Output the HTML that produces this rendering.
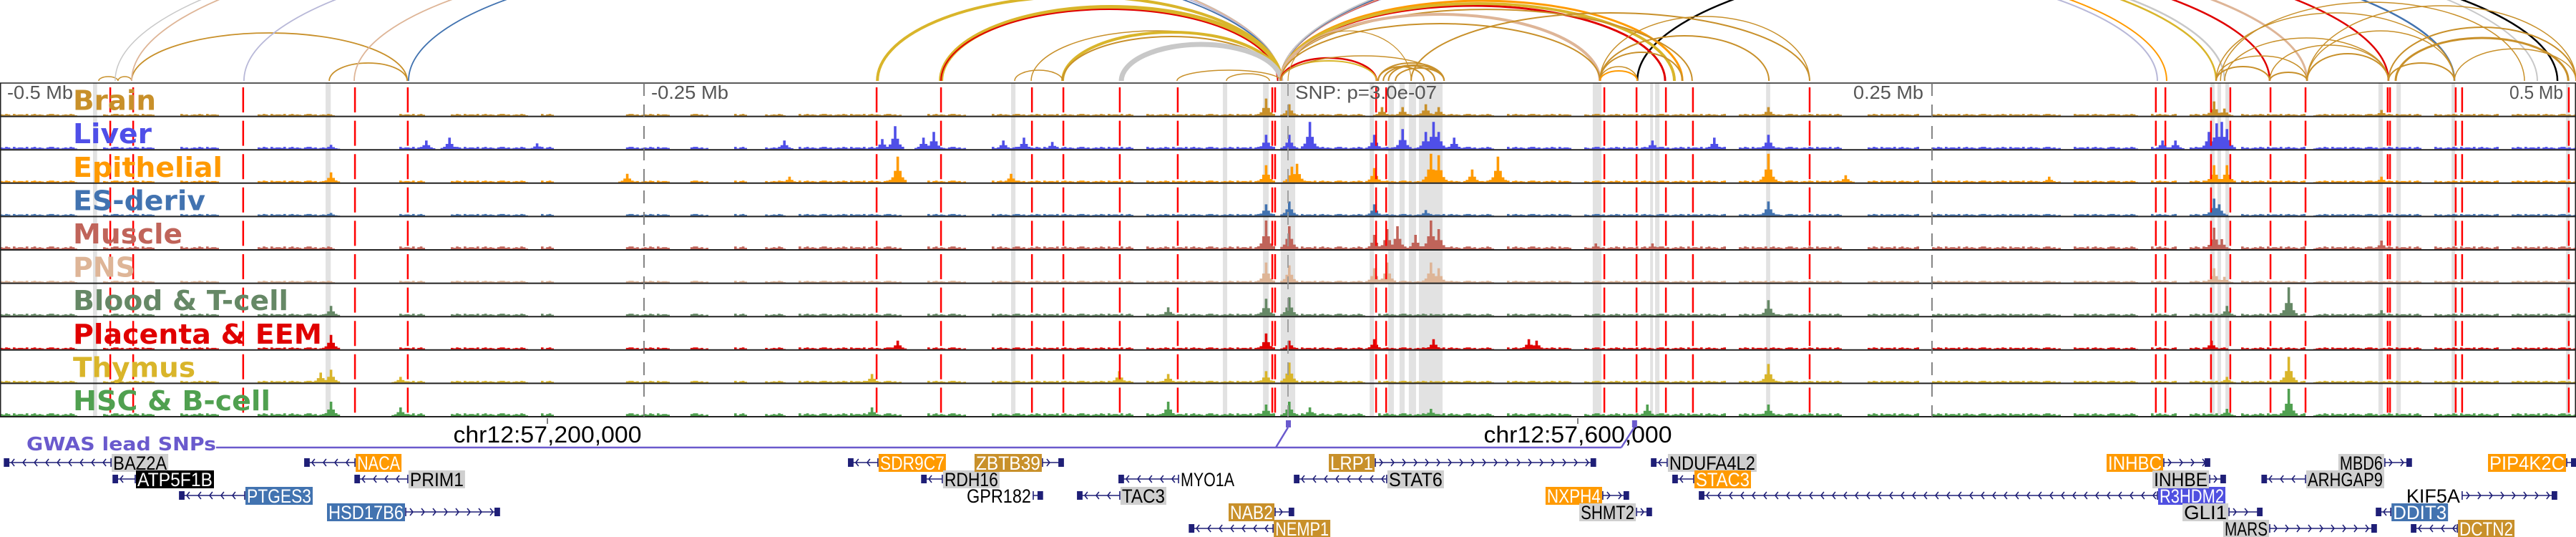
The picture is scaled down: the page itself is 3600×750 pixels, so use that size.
<!DOCTYPE html>
<html><head><meta charset="utf-8"><title>Epigenome browser</title>
<style>
html,body{margin:0;padding:0;background:#fff;}
svg{display:block;}
text{font-family:"Liberation Sans","DejaVu Sans",sans-serif;}
</style></head>
<body>
<svg id="chart" xmlns="http://www.w3.org/2000/svg" width="3600" height="750" viewBox="0 0 3600 750">
  <defs><clipPath id="arcClip"><rect x="0" y="0" width="3600" height="116"/></clipPath></defs>
  <g id="arcs" clip-path="url(#arcClip)"></g>
  <g id="bands"></g>
  <g id="tracks"></g>
  <g id="vlines"></g>
  <g id="labels"></g>
  <g id="axis"></g>
  <g id="genes"></g>
</svg>
<script>
// ---------- data ----------
const trackNames = ["Brain","Liver","Epithelial","ES-deriv","Muscle","PNS","Blood & T-cell","Placenta & EEM","Thymus","HSC & B-cell"];
const trackColors = ["#c8902a","#4f4fe8","#ff9a00","#4273b0","#c0645a","#deb597","#668866","#e00000","#d9b52a","#50a050"];
const trackBg = [2,2.5,2,2,3,2,2.5,2,2,3];
const peaksBrain = [[-8.6,.6],[0,.4],[36.1,.3],[44.4,.3],[52.8,.4],[58.3,.3],[186.1,.3],[358.9,.5],[362.5,.25],[424.2,.2]];
const peaksLiver = [[-372.5,.15],[-335.3,.3],[-325.6,.4],[-291.9,.2],[-195.8,.3],[-152.8,.8],[-137.8,.6],[-141.7,.4],[-158.3,.35],[-111.1,.3],[-102.8,.4],[-92.5,.25],[-8.6,.5],[0,.5],[8.3,.95],[32.5,.5],[44.4,.7],[52.8,.6],[55.6,.95],[58.3,.6],[63.9,.4],[140.6,.3],[165,.4],[186.1,.5],[356.9,.6],[359.7,.9],[361.7,.95],[363.9,.7],[339.4,.3],[344.4,.3]];
const peaksEpithelial = [[-372.5,.35],[-257.5,.3],[-151.9,.9],[-194.4,.2],[-107.8,.3],[-8.6,.6],[1.4,.55],[3.3,.65],[32.5,.5],[55.3,1],[58.3,.95],[71.4,.45],[81.4,.9],[186.1,1],[215.6,.25],[295,.2],[358.9,.6],[363.9,.6],[424.2,.2]];
const peaksES = [[-372.5,.1],[-8.6,.4],[0,.5],[32.5,.4],[52.8,.2],[186.1,.5],[358.9,.6],[361.1,.4]];
const peaksMuscle = [[-8.6,1],[0,.8],[32.5,.5],[37.5,.7],[41.7,.8],[48.6,.5],[55.3,1],[58.3,.7],[118.9,.2],[140.6,.2],[358.9,.75],[362.2,.35],[423.6,.3]];
const peaksPNS = [[-8.6,.7],[0,.6],[32.5,.5],[37.5,.7],[55.3,.7],[58.3,.5],[358.9,.5],[362.5,.2]];
const peaksBlood = [[-371.7,.35],[-47.5,.3],[-8.6,.6],[0,.65],[186.1,.55],[387.5,1],[363.9,.35],[424.2,.2]];
const peaksPlacenta = [[-371.7,.5],[-151.9,.3],[-8.6,.55],[0,.3],[32.5,.35],[55.6,.35],[92.5,.35],[95.8,.3],[358.3,.3]];
const peaksThymus = [[-375.8,.35],[-372.5,.45],[-345,.2],[-162.5,.3],[-66.1,.4],[-47.5,.3],[-8.6,.4],[0,.7],[186.1,.65],[387.5,.9],[363.9,.2]];
const peaksHSC = [[-372.5,.5],[-345,.3],[-162.5,.3],[-47.5,.5],[-8.6,.4],[0,.5],[8.3,.3],[55.3,.25],[138.9,.4],[186.1,.4],[387.5,.95],[363.9,.25]];
const bgRanges = [[-500,-470],[-460,-440],[-430,-415],[-400,-370],[-345,-335],[-325,-295],[-290,-285],[-257,-240],[-232,-225],[-215,-210],[-203,-195],[-190,-150],[-140,-125],[-115,-60],[-55,-5],[0,30],[35,80],[85,110],[115,170],[175,215],[225,245],[250,300],[305,330],[335,345],[350,365],[370,395],[398,440],[445,470],[475,500]];
const bgTexture = "3243142332413423213442312";
const bandStarts = [-463.9,-373.6,-107.5,-25.3,-9.7,-2.8,31.7,38.9,43.3,46.9,50.8,118.3,140.6,142.5,185.6,358.1,360.8,363.9,423.3,430.3,451.7,496.1];
const bandEnds   = [-462.3,-371.6,-105.8,-23.6,-7.5,2.8,33.4,41.1,45.3,49.7,60,121.7,141.7,144.2,187.2,359.7,362.2,365.3,425,432,453.1,497.5];
const redLines = [-457.2,-448.3,-405.6,-362.2,-341.7,-159.7,-134.7,-99.4,-87.2,-65.3,-42.8,-6.1,-5,34.2,38.1,122.8,135.3,146.7,157.2,202.5,336.9,340.6,358.3,365.8,381.4,395,426.9,427.8,453.3,455.8,497.2];
const tickKb = [-500,-250,0,250,500];
const tickLabels = ["-0.5 Mb","-0.25 Mb","SNP: p=3.0e-07","0.25 Mb","0.5 Mb"];
const snpKb = [0,134.4];
const arcStart = [-461.7,-454.2,-448.9,-372.2,-455.3,-448.9,-405.3,-362.5,-341.4,-159.4,-134.7,-134.7,-99.7,-87.5,-87.5,-64.7,-106.1,-43.1,-23.9,-2.8,-2.8,-2.8,-2.8,-2.8,-2.8,-2.8,-2.8,-2.8,135.6,-2.8,-2.8,-2.8,-2.8,-2.8,-2.8,47.8,121.1,121.1,121.1,121.1,121.1,-2.8,-2.8,35,37,41.7,35,39,0,-2.8,360.3,360.3,381.1,381.1,395.6,395.6,360.3,427.2,427.2,452.8,395.6,362,430,363.6];
const arcEnd   = [-454.2,-448.9,-341.9,-341.9,-2.8,-2.8,-2.8,-2.8,-2.8,-2.8,-2.8,-4,-2.8,-2.8,-2.8,-2.8,-87.5,-2.8,-7.2,337.5,341.1,360.3,363.6,381.1,395.6,427.2,452.8,485,492.8,153.1,146.4,150,156.9,121.1,121.1,202.5,186.7,202.5,153.1,135.6,135.6,34.4,34.4,60.6,60.6,60.6,52.8,57,47.8,60.6,381.1,395.6,395.6,427.2,427.2,452.8,452.8,452.8,500,500,500,480,497,427.2];
const arcHeight= [6,6,67,25,217,214,200,185,180,118,103,100,70,68,62,51,15,15,10,179,182,188,190,191,196,205,211,220,186,112,105,108,100,93,80,95,63,90,40,20,14,32,28,25,22,18,20,21,70,35,20,35,12,50,38,70,95,25,75,45,105,110,60,60];
const arcColor = ["g","g","g","g","gr","t","l","t","s","y","y","r","g","y","g","gr","g","g","g","l","o","y","gr","r","t","r","s","gr","k","o","r","y","g","t","g","g","g","g","g","g","o","r","y","g","g","g","g","g","g","g","g","g","g","g","g","g","g","g","g","g","g","g","g","g"];
const arcWidth = [1.5,1.5,1.8,1.8,1.5,1.8,1.8,1.8,1.8,4,6,2,1.5,4,2,7,1.5,1.5,1.5,2,2,2.5,2.5,2.5,3,2.5,2.5,2,2.5,3,3,4,2,4,2,2,2,1.5,2,1.5,2,2.5,2,2,2,2,2,2,1.2,1.5,2,1.5,2,1.5,2,1.5,1.5,2,2,1.5,1.5,1.5,3,1.5];
const geneNames = ["BAZ2A","ATP5F1B","PTGES3","HSD17B6","NACA","PRIM1","SDR9C7","RDH16","GPR182","ZBTB39","MYO1A","TAC3","NAB2","NEMP1","LRP1","STAT6","NXPH4","SHMT2","NDUFA4L2","STAC3","R3HDM2","INHBC","INHBE","GLI1","MARS","ARHGAP9","MBD6","KIF5A","DDIT3","DCTN2","PIP4K2C"];
const geneStart = [-498.3,-456.1,-430.3,-342.5,-381.7,-362.2,-170.6,-142.2,-98.9,-95.3,-65.6,-81.7,-5,-38.3,33.9,2.5,122.2,135.3,141.1,149.4,159.7,340,357.8,365.3,381.1,378.1,425.8,455.8,422.5,436.1,496.4];
const geneEnd   = [-456.9,-447.5,-405,-306.1,-362.2,-341.7,-159.2,-134.2,-95.3,-87.2,-42.5,-65.3,2.2,-5.8,119.4,38.3,132.2,141.1,147.2,157.5,337.5,357.8,363.9,378.1,422.5,395,436.1,492.5,428.1,453.9,503];
const geneRow   = [0,1,2,3,0,1,0,1,2,0,1,2,3,4,0,1,2,3,0,1,2,0,1,3,4,1,0,2,3,4,0];
const geneStrand= "<<<><<<<>><<><><>><<<>>>><>><<>";
const geneStyle = ["gr","k","s","s","o","gr","o","gr","n","g","n","gr","g","g","g","gr","o","gr","gr","o","b","o","gr","gr","gr","gr","gr","n","s","g","o"];

// ---------- scales ----------
const NS = "http://www.w3.org/2000/svg";
const x = kb => (kb + 500) * 3.6;
const TOP = 116, TH = 46.6, NT = 10, BOTTOM = TOP + TH * NT;
const ARC_BASE = 113, BARMAX = 40;
const palette = {g:"#c8902a",y:"#d9b52a",r:"#e00000",gr:"#c8c8c8",t:"#deb597",l:"#b8b8d8",s:"#4273b0",o:"#ff9a00",k:"#000000",b:"#5050e0",n:"none"};
function el(tag, parent){ const e=document.createElementNS(NS,tag); parent.appendChild(e); return e; }

// ---------- arcs ----------
const arcG = document.getElementById("arcs");
for (let i=0;i<arcStart.length;i++){
  const x1=x(Math.min(arcStart[i],arcEnd[i])), x2=x(Math.max(arcStart[i],arcEnd[i]));
  const rx=(x2-x1)/2, ry=arcHeight[i];
  const p=el("path",arcG);
  
  
  p.setAttribute("d",`M${x1},${ARC_BASE} A${rx},${ry} 0 0 1 ${x2},${ARC_BASE}`);
  p.setAttribute("fill","none");
  p.setAttribute("stroke",palette[arcColor[i]]);
  p.setAttribute("stroke-width",arcWidth[i]);
}

// ---------- bands ----------
const bandG=document.getElementById("bands");
for (let i=0;i<bandStarts.length;i++){
  const r=el("rect",bandG);
  
  
  r.setAttribute("x",x(bandStarts[i])); r.setAttribute("y",TOP);
  r.setAttribute("width",Math.max(2,x(bandEnds[i])-x(bandStarts[i]))); r.setAttribute("height",BOTTOM-TOP);
  r.setAttribute("fill","#e2e2e2");
}

// ---------- tracks ----------
const peaks=[peaksBrain,peaksLiver,peaksEpithelial,peaksES,peaksMuscle,peaksPNS,peaksBlood,peaksPlacenta,peaksThymus,peaksHSC];
const trackG=document.getElementById("tracks");
const NB=1000;
for (let t=0;t<NT;t++){
  const h=new Array(NB).fill(0);
  bgRanges.forEach(([a,b])=>{ for(let k=Math.round(a+500);k<Math.round(b+500)&&k<NB;k++){ h[k]=trackBg[t]*(+bgTexture[k%bgTexture.length])/3.2; } });
  peaks[t].forEach(([pos,v])=>{
    const c=Math.round(pos+500); const H=v*BARMAX;
    [[0,1],[-1,.45],[1,.45],[-2,.2],[2,.2],[-3,.1],[3,.1]].forEach(([d,f])=>{ const k=c+d; if(k>=0&&k<NB) h[k]=Math.max(h[k],H*f); });
  });
  const base=TOP+TH*(t+1)-1;
  let d="";
  for(let k=0;k<NB;k++){ if(h[k]>0.3){ const x0=x(k-500); d+=`M${x0.toFixed(1)},${base}h3.6v${(-h[k]).toFixed(1)}h-3.6z`; } }
  const p=el("path",trackG);
  
  
  p.setAttribute("d",d); p.setAttribute("fill",trackColors[t]);
  const sep=el("line",trackG);
  
  
  sep.setAttribute("x1",0); sep.setAttribute("x2",3600); sep.setAttribute("y1",TOP+TH*(t+1)); sep.setAttribute("y2",TOP+TH*(t+1));
  sep.setAttribute("stroke","#222"); sep.setAttribute("stroke-width",2);
}
const frame=el("path",trackG);


frame.setAttribute("d",`M0.75,${BOTTOM} V${TOP} H3599.25 V${BOTTOM}`);
frame.setAttribute("fill","none"); frame.setAttribute("stroke","#222"); frame.setAttribute("stroke-width",1.5);

// ---------- vertical marker lines ----------
const vG=document.getElementById("vlines");
tickKb.forEach((kb,i)=>{
  if(i===0||i===4) return;
  const l=el("line",vG);
  
  
  l.setAttribute("x1",x(kb)); l.setAttribute("x2",x(kb)); l.setAttribute("y1",TOP); l.setAttribute("y2",BOTTOM);
  l.setAttribute("stroke",i===2?"#999":"#777"); l.setAttribute("stroke-width",1.8); l.setAttribute("stroke-dasharray","18 12");
});
redLines.forEach(kb=>{
  const l=el("line",vG);
  
  
  l.setAttribute("x1",x(kb)); l.setAttribute("x2",x(kb)); l.setAttribute("y1",TOP+6); l.setAttribute("y2",BOTTOM);
  l.setAttribute("stroke","#ff0000"); l.setAttribute("stroke-width",2.5); l.setAttribute("stroke-dasharray","35 11.6");
});

// ---------- track labels ----------
const labG=document.getElementById("labels");
const labW=[116,110,209,185,153,87,301,348,171,276];
trackNames.forEach((n,t)=>{
  const tx=el("text",labG);
  
  
  tx.setAttribute("x",102); tx.setAttribute("y",TOP+TH*(t+1)-9);
  tx.setAttribute("font-size",38); tx.setAttribute("font-weight","bold");
  tx.setAttribute("style",'font-family:"DejaVu Sans",sans-serif');
  tx.setAttribute("fill",trackColors[t]);
  tx.setAttribute("textLength",labW[t]); tx.setAttribute("lengthAdjust","spacingAndGlyphs");
  tx.textContent=n;
});

// ---------- axis ----------
const axG=document.getElementById("axis");
const tickW=[92,108,198,98,75];
tickKb.forEach((kb,i)=>{
  const tx=el("text",axG);
  
  
  let xx = i===0?10 : i===4? x(kb)-93 : i===3? x(kb)-110 : x(kb)+10;
  tx.setAttribute("x",xx); tx.setAttribute("y",138);
  tx.setAttribute("font-size",26); tx.setAttribute("fill","#555");
  tx.setAttribute("textLength",tickW[i]); tx.setAttribute("lengthAdjust","spacingAndGlyphs");
  tx.textContent=tickLabels[i];
});
const coordKb=[-287.5,112.5], coordLabels=["chr12:57,200,000","chr12:57,600,000"];
coordKb.forEach((kb,i)=>{
  const tk=el("line",axG);
  
  
  tk.setAttribute("x1",x(kb)); tk.setAttribute("x2",x(kb)); tk.setAttribute("y1",584); tk.setAttribute("y2",592);
  tk.setAttribute("stroke","#555"); tk.setAttribute("stroke-width",1.5);
  const tx=el("text",axG);
  
  
  tx.setAttribute("x",x(kb)); tx.setAttribute("y",618); tx.setAttribute("text-anchor","middle");
  tx.setAttribute("font-size",32); tx.setAttribute("fill","#000");
  tx.setAttribute("textLength",263); tx.setAttribute("lengthAdjust","spacingAndGlyphs");
  tx.textContent=coordLabels[i];
});
// GWAS track
const gw=el("text",axG);


gw.setAttribute("x",37); gw.setAttribute("y",629); gw.setAttribute("font-size",26); gw.setAttribute("font-weight","bold");
gw.setAttribute("style",'font-family:"DejaVu Sans",sans-serif');
gw.setAttribute("fill","#6a5acd"); gw.setAttribute("textLength",265); gw.setAttribute("lengthAdjust","spacingAndGlyphs");
gw.textContent="GWAS lead SNPs";
const gl=el("path",axG);


gl.setAttribute("d",`M302,625 H${x(snpKb[1])-18} M${x(snpKb[0])-17},625 L${x(snpKb[0])},597 M${x(snpKb[1])-18},625 L${x(snpKb[1])},597`);
gl.setAttribute("fill","none"); gl.setAttribute("stroke","#6a5acd"); gl.setAttribute("stroke-width",2.5);
snpKb.forEach(kb=>{
  const r=el("rect",axG);
  
  
  r.setAttribute("x",x(kb)-3); r.setAttribute("y",587); r.setAttribute("width",7); r.setAttribute("height",10);
  r.setAttribute("fill","#6a5acd");
});

// ---------- genes ----------
const gG=document.getElementById("genes");
const rowY=[646,669,692,715,738];
for(let i=0;i<geneNames.length;i++){
  const g=el("g",gG);
  
  
  const y=rowY[geneRow[i]], x1=x(geneStart[i]), x2=Math.min(3600,x(geneEnd[i]));
  const fwd=geneStrand[i]===">";
  let d=`M${x1},${y}H${x2}`;
  for(let xx=x1+10;xx<x2-6;xx+=16){ d+= fwd?`M${xx-4},${y-5}L${xx},${y}L${xx-4},${y+5}`:`M${xx+4},${y-5}L${xx},${y}L${xx+4},${y+5}`; }
  d+=`M${x1},${y-6}V${y+6}M${x2},${y-6}V${y+6}`;
  const p=el("path",g);
  
  
  p.setAttribute("d",d); p.setAttribute("fill","none"); p.setAttribute("stroke","#1f1f77"); p.setAttribute("stroke-width",1.6);
  const ex=el("rect",g);
  
  
  ex.setAttribute("x",fwd?x2-7:x1); ex.setAttribute("y",y-6); ex.setAttribute("width",Math.min(7,x2-x1)); ex.setAttribute("height",12);
  ex.setAttribute("fill","#1f1f77");
  const st=geneStyle[i];
  const w=geneNames[i].length*15+4;
  const lx=fwd? x1-w-1 : x2+1;
  if(st!=="n"){
    const r=el("rect",g);
    
    
    r.setAttribute("x",lx); r.setAttribute("y",y-12); r.setAttribute("width",w); r.setAttribute("height",25);
    r.setAttribute("fill",palette[st]==="#c8c8c8"?"#cfcfcf":palette[st]);
  }
  const tx=el("text",g);
  
  
  tx.setAttribute("x",lx+2); tx.setAttribute("y",y+10); tx.setAttribute("font-size",27);
  tx.setAttribute("fill",(st==="gr"||st==="n")?"#000":"#fff");
  tx.setAttribute("textLength",w-4); tx.setAttribute("lengthAdjust","spacingAndGlyphs");
  tx.textContent=geneNames[i];
}
</script>
</body></html>
